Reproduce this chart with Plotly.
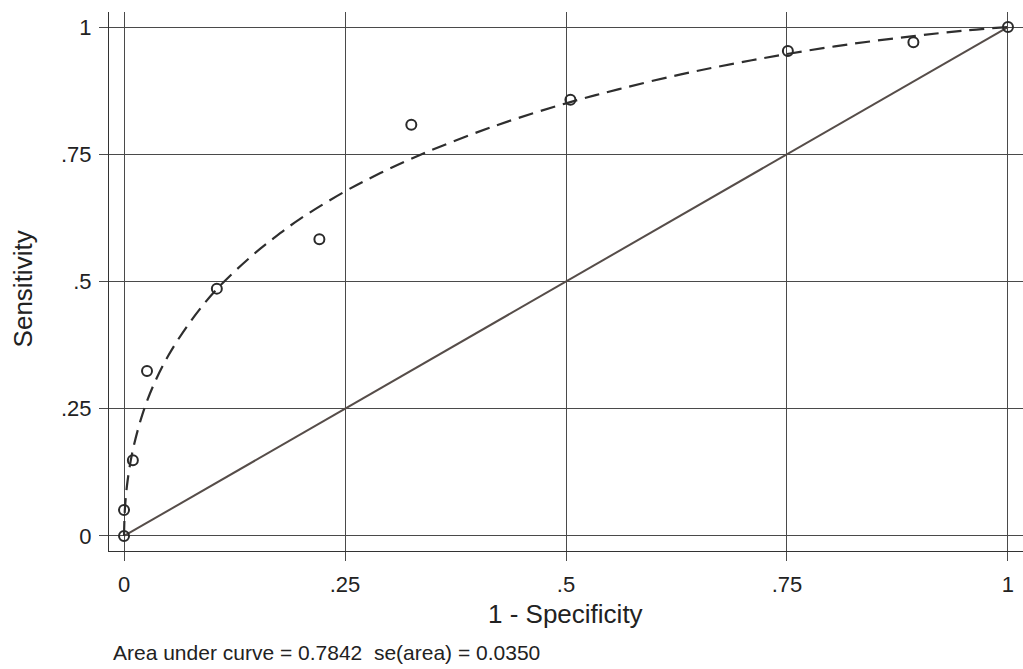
import plotly.graph_objects as go

# Empirical ROC points (1 - specificity, sensitivity)
fpr_points = [0.0, 0.0, 0.010, 0.026, 0.105, 0.221, 0.325, 0.505, 0.751, 0.893, 1.0]
tpr_points = [0.0, 0.051, 0.149, 0.324, 0.486, 0.583, 0.808, 0.857, 0.953, 0.970, 1.0]

# Fitted (smooth) ROC curve
fit_fpr = [0.0, 0.001, 0.004, 0.010, 0.021, 0.033, 0.050, 0.075, 0.105, 0.145,
           0.170, 0.200, 0.250, 0.290, 0.338, 0.420, 0.500, 0.560, 0.630, 0.690,
           0.750, 0.820, 0.893, 0.950, 1.0]
fit_tpr = [0.0, 0.053, 0.108, 0.169, 0.240, 0.295, 0.354, 0.421, 0.485, 0.551,
           0.586, 0.624, 0.677, 0.713, 0.751, 0.806, 0.850, 0.878, 0.907, 0.928,
           0.947, 0.966, 0.982, 0.993, 1.0]

# Chance line
ref_x = [0.0, 1.0]
ref_y = [0.0, 1.0]

tick_vals = [0, 0.25, 0.5, 0.75, 1]
tick_text = ["0", ".25", ".5", ".75", "1"]

auc = 0.7842
auc_se = 0.0350

FONT = "Liberation Sans, Arial, sans-serif"
GRID = "#4a4a4a"
AXIS = "#333333"
TEXT = "#222222"

fig = go.Figure()

fig.add_trace(go.Scatter(
    x=ref_x, y=ref_y, mode="lines",
    line=dict(color="#564d49", width=2),
    hoverinfo="skip", showlegend=False,
))

fig.add_trace(go.Scatter(
    x=fit_fpr, y=fit_tpr, mode="lines",
    line=dict(color="#2e2e2e", width=2.2, dash="15px,8px", shape="spline", smoothing=1.0),
    hoverinfo="skip", showlegend=False,
))

fig.add_trace(go.Scatter(
    x=fpr_points, y=tpr_points, mode="markers",
    marker=dict(symbol="circle-open", size=10, color="#2a2a2a", line=dict(width=2, color="#2a2a2a")),
    showlegend=False,
))

axis_common = dict(
    tickvals=tick_vals, ticktext=tick_text,
    showgrid=True, gridcolor=GRID, gridwidth=1,
    zeroline=False,
    showline=True, linecolor=AXIS, linewidth=1,
    ticks="outside", ticklen=9, tickcolor=GRID, tickwidth=1,
    tickfont=dict(family=FONT, size=22, color=TEXT),
)

fig.update_xaxes(range=[-0.017, 1.017], ticklabelstandoff=5, **axis_common)
fig.update_yaxes(range=[-0.0295, 1.0295], ticklabelstandoff=3, **axis_common)

fig.update_layout(
    width=1023, height=669,
    margin=dict(l=109, r=0, t=12, b=118),
    paper_bgcolor="white", plot_bgcolor="white",
    font=dict(family=FONT, color=TEXT),
    annotations=[
        dict(text="1 - Specificity", xref="paper", yref="paper",
             x=0.499, y=-0.117, xanchor="center", yanchor="middle",
             showarrow=False, font=dict(family=FONT, size=26, color=TEXT)),
        dict(text="Sensitivity", xref="paper", yref="paper",
             x=-0.094, y=0.4855, xanchor="center", yanchor="middle", textangle=-90,
             showarrow=False, font=dict(family=FONT, size=26, color=TEXT)),
        dict(text=f"Area under curve = {auc:.4f}  se(area) = {auc_se:.4f}",
             xref="paper", yref="paper", x=0.002, y=-0.189,
             xanchor="left", yanchor="middle",
             showarrow=False, font=dict(family=FONT, size=21, color=TEXT)),
    ],
)

fig.write_html("out.html")
